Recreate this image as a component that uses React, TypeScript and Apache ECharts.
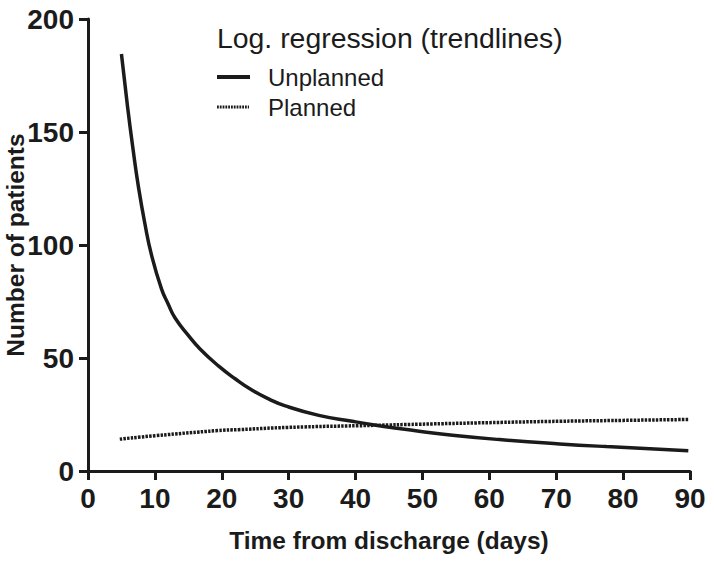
import React, { useEffect, useRef } from "react";
import * as echarts from "echarts";

const unplannedX = [5.0, 5.9, 6.75, 7.5, 8.5, 9.5, 11.0, 12.0, 13.0, 15.0, 16.75, 19.5, 22.0, 24.5, 27.0, 29.5, 34.5, 39.5, 42.8, 46.5, 49.5, 54.5, 61.5, 70.5, 77.5, 89.75];
const unplannedY = [184.5, 161.5, 142.0, 126.5, 109.5, 95.5, 80.5, 73.8, 67.8, 60.0, 54.0, 46.5, 40.8, 35.8, 31.9, 28.8, 24.6, 22.0, 20.4, 18.8, 17.6, 15.8, 13.9, 12.0, 10.8, 9.0];

const plannedX = [4.75, 10, 19.5, 22.5, 30, 42.8, 49.5, 60, 70.5, 80, 89.75];
const plannedY = [14.1, 15.6, 17.9, 18.3, 19.3, 20.2, 20.7, 21.4, 22.0, 22.4, 22.8];

const xTicks = [0, 10, 20, 30, 40, 50, 60, 70, 80, 90];
const yTicks = [0, 50, 100, 150, 200];

const legendTitle = "Log. regression (trendlines)";
const seriesNames = ["Unplanned", "Planned"];
const xName = "Time from discharge (days)";
const yName = "Number of patients";

const INK = "#1b1b1b";
const FONT = "'Liberation Sans', Arial, sans-serif";

export default function App() {
  const ref = useRef<HTMLDivElement>(null);
  useEffect(() => {
    if (!ref.current) return;
    const chart = echarts.init(ref.current, undefined, { renderer: "svg" });
    const pair = (xs: number[], ys: number[]) => xs.map((x, i) => [x, ys[i]]);
    chart.setOption({
      animation: false,
      backgroundColor: "#ffffff",
      grid: { left: 88, right: 24, top: 19, bottom: 92, containLabel: false, outerBoundsMode: "none" },
      xAxis: {
        type: "value",
        min: xTicks[0],
        max: xTicks[xTicks.length - 1],
        interval: 10,
        name: xName,
        nameLocation: "middle",
        nameGap: 57,
        nameMoveOverlap: false,
        nameTextStyle: { fontFamily: FONT, fontWeight: "bold", fontSize: 24.5, color: INK },
        axisLine: { show: true, lineStyle: { color: INK, width: 3 } },
        axisTick: { show: true, length: 9, lineStyle: { color: INK, width: 3 } },
        splitLine: { show: false },
        axisLabel: { fontFamily: FONT, fontWeight: "bold", fontSize: 28, color: INK, margin: 13 },
      },
      yAxis: {
        type: "value",
        min: yTicks[0],
        max: yTicks[yTicks.length - 1],
        interval: 50,
        name: yName,
        nameLocation: "middle",
        nameGap: 60,
        nameMoveOverlap: false,
        nameTextStyle: { fontFamily: FONT, fontWeight: "bold", fontSize: 24.5, color: INK },
        axisLine: { show: true, lineStyle: { color: INK, width: 3 } },
        axisTick: { show: true, length: 9, lineStyle: { color: INK, width: 3 } },
        splitLine: { show: false },
        axisLabel: { fontFamily: FONT, fontWeight: "bold", fontSize: 28, color: INK, margin: 14 },
      },
      series: [
        {
          name: seriesNames[0],
          type: "line",
          data: pair(unplannedX, unplannedY),
          smooth: 0.5,
          showSymbol: false,
          lineStyle: { color: INK, width: 3.5 },
        },
        {
          name: seriesNames[1],
          type: "line",
          data: pair(plannedX, plannedY),
          smooth: 0.5,
          showSymbol: false,
          lineStyle: { color: INK, width: 3.5, type: [2.5, 1.2] },
        },
      ],
      graphic: [
        {
          type: "text",
          left: 217,
          top: 24,
          style: { text: legendTitle, fontFamily: FONT, fontSize: 28.4, fill: INK },
        },
        {
          type: "line",
          shape: { x1: 217, y1: 77, x2: 250, y2: 77 },
          style: { stroke: INK, lineWidth: 4 },
        },
        {
          type: "text",
          left: 268,
          top: 65,
          style: { text: seriesNames[0], fontFamily: FONT, fontSize: 24, fill: INK },
        },
        {
          type: "line",
          shape: { x1: 217, y1: 107, x2: 249, y2: 107 },
          style: { stroke: INK, lineWidth: 3, lineDash: [1.8, 1] },
        },
        {
          type: "text",
          left: 268,
          top: 95,
          style: { text: seriesNames[1], fontFamily: FONT, fontSize: 24, fill: INK },
        },
      ],
    });
    return () => chart.dispose();
  }, []);
  return <div ref={ref} style={{ width: 714, height: 563, position: "absolute", left: 0, top: 0 }} />;
}
